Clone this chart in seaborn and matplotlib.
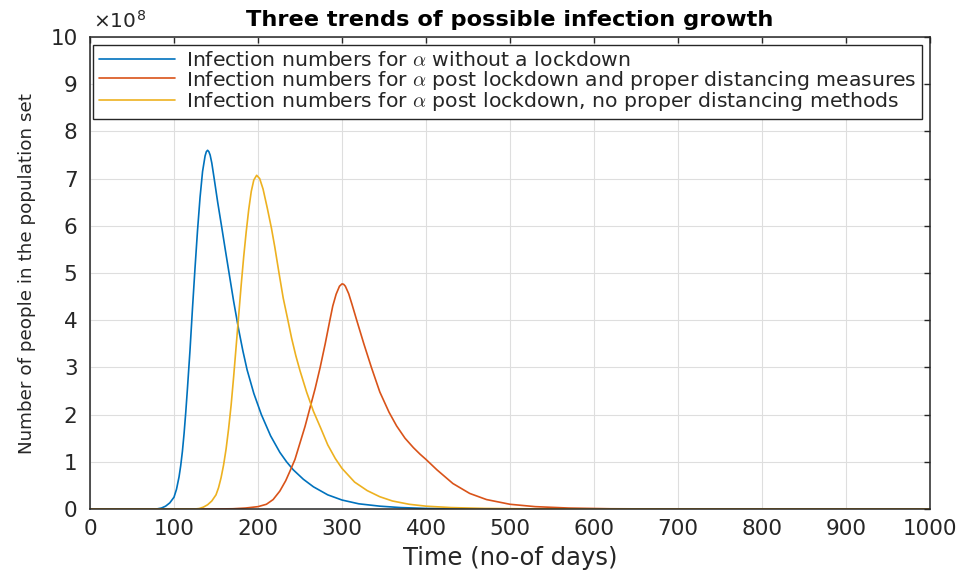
import numpy as np
import pandas as pd
import matplotlib
matplotlib.use("Agg")
import matplotlib.pyplot as plt
import seaborn as sns

# Infected people (in units of 1e8) against time in days, one set per scenario
no_lockdown_days = [0, 70, 80, 85, 90, 95, 100, 103, 106, 108, 110, 112, 114, 116, 119, 122,
                    125, 128, 131, 134, 137, 138.5, 140, 141.5, 143, 145, 148, 152, 157, 161,
                    166, 171, 177, 182, 187, 195, 204, 215, 226, 234, 242, 254, 266, 283,
                    300, 320, 345, 370, 400, 450, 500, 1000]
no_lockdown_vals = [0, 0, 0.003, 0.02, 0.06, 0.13, 0.25, 0.42, 0.68, 0.92, 1.22, 1.6, 2.05,
                    2.55, 3.35, 4.25, 5.1, 5.9, 6.6, 7.15, 7.48, 7.57, 7.6, 7.57, 7.5, 7.33,
                    6.98, 6.5, 5.95, 5.5, 4.95, 4.4, 3.8, 3.35, 2.95, 2.45, 2.0, 1.55, 1.2,
                    1.0, 0.83, 0.63, 0.47, 0.3, 0.19, 0.11, 0.06, 0.03, 0.012, 0.003, 0, 0]

distancing_days = [0, 150, 170, 185, 200, 210, 218, 226, 233, 238, 244, 250, 256, 262, 268,
                   274, 280, 285, 289, 293, 297, 300, 302, 304, 308, 312, 317.5, 326, 335,
                   345, 356, 365, 375, 385, 393, 400, 413, 432, 452, 472, 500, 530, 570,
                   620, 700, 1000]
distancing_vals = [0, 0, 0.005, 0.02, 0.05, 0.1, 0.2, 0.38, 0.6, 0.8, 1.05, 1.4, 1.75, 2.15,
                   2.55, 3.0, 3.5, 3.95, 4.3, 4.55, 4.72, 4.77, 4.76, 4.72, 4.56, 4.33, 4.0,
                   3.5, 3.0, 2.48, 2.05, 1.76, 1.5, 1.3, 1.16, 1.05, 0.83, 0.54, 0.33, 0.2,
                   0.1, 0.05, 0.02, 0.005, 0, 0]

no_distancing_days = [0, 125, 130, 135, 140, 145, 150, 153, 156, 159, 162, 165, 168, 171,
                      174, 177, 180, 183, 186, 189, 192, 195, 198.4, 202, 206, 211, 216, 220,
                      225, 230, 235, 240, 245, 250, 258, 266, 275, 283, 292, 300, 315, 330,
                      345, 360, 380, 400, 430, 470, 520, 600, 1000]
no_distancing_vals = [0, 0, 0.01, 0.04, 0.09, 0.17, 0.3, 0.45, 0.66, 0.93, 1.27, 1.7, 2.2,
                      2.8, 3.45, 4.1, 4.75, 5.35, 5.88, 6.35, 6.73, 6.97, 7.07, 7.0, 6.78,
                      6.38, 5.95, 5.55, 5.0, 4.47, 4.05, 3.62, 3.25, 2.93, 2.47, 2.07, 1.7,
                      1.36, 1.07, 0.86, 0.57, 0.39, 0.26, 0.17, 0.1, 0.06, 0.03, 0.012,
                      0.004, 0, 0]

series_labels = [
    r"Infection numbers for $\alpha$ without a lockdown",
    r"Infection numbers for $\alpha$ post lockdown and proper distancing measures",
    r"Infection numbers for $\alpha$ post lockdown, no proper distancing methods",
]
series_colors = ["#0072BD", "#D95319", "#EDB120"]

x_ticks = list(range(0, 1001, 100))
y_ticks = list(range(0, 11))

frames = []
for label, d, v in zip(series_labels,
                       [no_lockdown_days, distancing_days, no_distancing_days],
                       [no_lockdown_vals, distancing_vals, no_distancing_vals]):
    frames.append(pd.DataFrame({"day": d, "infected": v, "scenario": label}))
df = pd.concat(frames, ignore_index=True)

sns.set_theme(style="white")
plt.rcParams["font.family"] = ["DejaVu Sans"]
plt.rcParams["mathtext.fontset"] = "cm"

fig = plt.figure(figsize=(9.68, 5.70), dpi=100)
ax = fig.add_axes([90 / 968, 61 / 570, 840 / 968, 472 / 570])

sns.lineplot(data=df, x="day", y="infected", hue="scenario", hue_order=series_labels,
             palette=series_colors, estimator=None, sort=False, linewidth=1.2, ax=ax)

ax.set_xlim(0, 1000)
ax.set_ylim(0, 10)
ax.set_xticks(x_ticks)
ax.set_yticks(y_ticks)
ax.grid(True, color="#dedede", linewidth=0.8)
ax.set_axisbelow(True)

axis_color = "#262626"
for sp in ax.spines.values():
    sp.set_color(axis_color)
    sp.set_linewidth(1.1)
ax.tick_params(axis="both", which="both", direction="in", length=4, width=1,
               colors=axis_color, labelcolor="#262626", labelsize=15.5,
               top=True, right=True)
ax.tick_params(axis="x", pad=7)
ax.tick_params(axis="y", pad=9)

ax.set_xlabel("Time (no-of days)", fontsize=17.5, color="#262626", labelpad=5)
ax.set_ylabel("Number of people in the population set", fontsize=13.2,
              color="#262626", labelpad=10)
ax.set_title("Three trends of possible infection growth", fontsize=16.2,
             fontweight="bold", color="black", pad=8)

ax.text(0.004, 1.012, r"×10$^{\mathregular{8}}$", transform=ax.transAxes,
        fontsize=14.5, color="#262626", ha="left", va="bottom")

leg = ax.legend(loc="upper left", bbox_to_anchor=(0.0036, 0.983), fontsize=14.65,
                frameon=True, fancybox=False, framealpha=1, edgecolor="#262626",
                borderpad=0.3, handlelength=3.75, handletextpad=0.5,
                labelspacing=-0.08, borderaxespad=0)
leg.get_frame().set_linewidth(1.0)
for t in leg.get_texts():
    t.set_color("#262626")

fig.savefig("out.png", dpi=100)
